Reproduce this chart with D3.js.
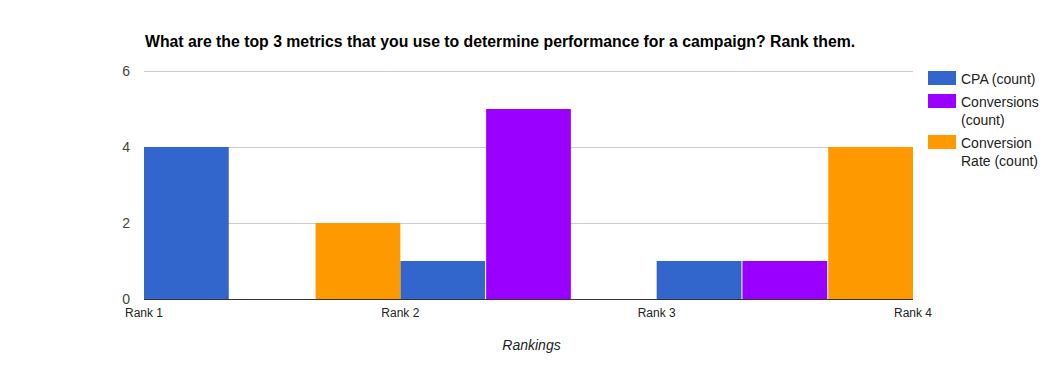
<!DOCTYPE html>
<html>
<head>
<meta charset="utf-8">
<script src="https://cdn.jsdelivr.net/npm/d3@7"></script>
<style>
  body { margin: 0; background: #fff; }
  svg { display: block; font-family: Arial, "Liberation Sans", sans-serif; }
</style>
</head>
<body>
<svg width="1057" height="371"></svg>
<script>
var groups = [0, 1, 2];
var rankLabels = ["Rank 1", "Rank 2", "Rank 3", "Rank 4"];
var seriesNames = ["CPA (count)", "Conversions (count)", "Conversion Rate (count)"];
var legendLines = [["CPA (count)"], ["Conversions", "(count)"], ["Conversion", "Rate (count)"]];
var cpa = [4, 1, 1];
var conversions = [0, 5, 1];
var conversionRate = [2, 0, 4];
var colors = ["#3366cc", "#9900ff", "#ff9900"];
var yTicks = [0, 2, 4, 6];

var svg = d3.select("svg");
var plotLeft = 144, plotRight = 913, plotTop = 71, plotBottom = 299;

var x = d3.scaleLinear().domain([0, 3]).range([plotLeft, plotRight]);
var y = d3.scaleLinear().domain([0, 6]).range([plotBottom, plotTop]);
var inner = d3.scaleBand().domain(d3.range(seriesNames.length))
    .range([0, x(1) - x(0)]).paddingInner(0.012);

var series = [cpa, conversions, conversionRate];

// gridlines
svg.append("g").selectAll("line")
    .data(yTicks.filter(function(d) { return d > 0; }))
    .enter().append("line")
      .attr("x1", plotLeft).attr("x2", plotRight)
      .attr("y1", function(d) { return Math.round(y(d)) + 0.5; })
      .attr("y2", function(d) { return Math.round(y(d)) + 0.5; })
      .attr("stroke", "#cccccc");

// y labels
svg.append("g").selectAll("text")
    .data(yTicks)
    .enter().append("text")
      .attr("x", 130)
      .attr("y", function(d) { return y(d) + 5; })
      .attr("text-anchor", "end")
      .attr("font-size", 14)
      .attr("fill", "#444")
      .text(function(d) { return d; });

// bars
series.forEach(function(vals, si) {
  svg.append("g").selectAll("rect")
      .data(vals)
      .enter().append("rect")
        .attr("x", function(d, i) { return x(groups[i]) + inner(si); })
        .attr("width", inner.bandwidth())
        .attr("y", function(d) { return y(d); })
        .attr("height", function(d) { return plotBottom - y(d); })
        .attr("fill", colors[si]);
});

// baseline
svg.append("line")
    .attr("x1", plotLeft).attr("x2", plotRight)
    .attr("y1", plotBottom + 0.5).attr("y2", plotBottom + 0.5)
    .attr("stroke", "#333").attr("stroke-width", 1.2);

// x labels
svg.append("g").selectAll("text")
    .data(rankLabels)
    .enter().append("text")
      .attr("x", function(d, i) { return x(i); })
      .attr("y", 317)
      .attr("text-anchor", "middle")
      .attr("font-size", 12)
      .attr("fill", "#222")
      .text(function(d) { return d; });

svg.append("text")
    .attr("x", (plotLeft + plotRight) / 2 + 3)
    .attr("y", 350)
    .attr("text-anchor", "middle")
    .attr("font-size", 14)
    .attr("font-style", "italic")
    .attr("fill", "#222")
    .text("Rankings");

// title
svg.append("text")
    .attr("x", 145)
    .attr("y", 47)
    .attr("font-size", 15.8)
    .attr("font-weight", "bold")
    .attr("fill", "#000")
    .text("What are the top 3 metrics that you use to determine performance for a campaign? Rank them.");

// legend
var legendY = [71, 94, 135];
var legend = svg.append("g").selectAll("g")
    .data(legendLines)
    .enter().append("g")
      .attr("transform", function(d, i) { return "translate(928," + legendY[i] + ")"; });

legend.append("rect")
    .attr("width", 28).attr("height", 14)
    .attr("fill", function(d, i) { return colors[i]; });

legend.each(function(lines) {
  var g = d3.select(this);
  lines.forEach(function(t, j) {
    g.append("text")
      .attr("x", 33)
      .attr("y", 13 + j * 18)
      .attr("font-size", 14)
      .attr("fill", "#222")
      .text(t);
  });
});
</script>
</body>
</html>
